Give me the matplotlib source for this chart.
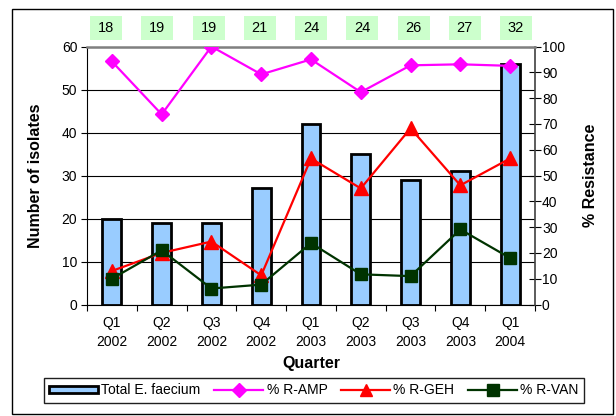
import matplotlib
matplotlib.use("Agg")
import matplotlib.pyplot as plt
from matplotlib.patches import Rectangle, Patch
from matplotlib.lines import Line2D
import numpy as np

plt.rcParams['font.family'] = ['Liberation Sans', 'DejaVu Sans']

quarters = ["Q1\n2002", "Q2\n2002", "Q3\n2002", "Q4\n2002",
            "Q1\n2003", "Q2\n2003", "Q3\n2003", "Q4\n2003", "Q1\n2004"]
total_faecium = [20, 19, 19, 27, 42, 35, 29, 31, 56]
r_amp = [94.2, 73.7, 100.0, 89.2, 95.0, 82.3, 92.7, 93.1, 92.5]
r_geh = [13.0, 20.0, 24.4, 11.3, 56.6, 45.0, 68.3, 46.2, 56.6]
r_van = [10.0, 21.0, 6.2, 7.7, 23.8, 11.7, 11.0, 29.1, 18.0]
box_counts = [18, 19, 19, 21, 24, 24, 26, 27, 32]

W, H = 616, 416
fig = plt.figure(figsize=(W / 100, H / 100), dpi=100)

# plot area in pixel coordinates
left_px, right_px, top_px, bot_px = 87, 535, 46.5, 304.5
ax = fig.add_axes([left_px / W, (H - bot_px) / H,
                   (right_px - left_px) / W, (bot_px - top_px) / H])
ax2 = ax.twinx()
ax.set_zorder(1)
ax2.set_zorder(2)
ax.patch.set_visible(False)
ax2.patch.set_visible(False)

x = np.arange(len(quarters))
ax.bar(x, total_faecium, width=0.38, color='#99CCFF', edgecolor='black',
       linewidth=2.0, zorder=3)

ax.set_xlim(-0.5, len(quarters) - 0.5)
ax.set_ylim(0, 60)
ax.set_yticks(np.arange(0, 61, 10))
ax.grid(axis='y', color='black', linewidth=0.8, zorder=0)
ax.set_axisbelow(True)

# category boundaries as major ticks, labels on minor ticks at centres
ax.set_xticks(np.arange(-0.5, len(quarters), 1.0))
ax.set_xticklabels([])
ax.set_xticks(x, minor=True)
ax.set_xticklabels(quarters, minor=True, fontsize=10, linespacing=1.5)
ax.tick_params(axis='x', which='major', direction='out', length=4, width=0.8)
ax.tick_params(axis='x', which='minor', length=0, pad=8)
ax.tick_params(axis='y', direction='out', length=4, width=0.8, labelsize=10, pad=3)

for side in ('top', 'right'):
    ax.spines[side].set_visible(False)
ax.spines['left'].set_color('black')
ax.spines['bottom'].set_color('black')

ax2.plot(x, r_amp, color='#FF00FF', linewidth=1.6, marker='D',
         markersize=7, markeredgewidth=1, zorder=4)
ax2.plot(x, r_geh, color='#FF0000', linewidth=1.6, marker='^',
         markersize=10, markeredgewidth=1, zorder=5)
ax2.plot(x, r_van, color='#003300', linewidth=1.6, marker='s',
         markersize=9, markeredgewidth=1, zorder=6)
ax2.set_ylim(0, 100)
ax2.set_yticks(np.arange(0, 101, 10))
ax2.tick_params(axis='y', direction='inout', length=8, width=0.8,
                labelsize=10, pad=1)
ax2.spines['top'].set_color('#808080')
ax2.spines['top'].set_linewidth(1.8)
ax2.spines['right'].set_color('#404040')
ax2.spines['right'].set_linewidth(1.2)
ax2.spines['left'].set_visible(False)
ax2.spines['bottom'].set_visible(False)

ax.set_ylabel("Number of isolates", fontsize=11.5, fontweight='bold')
ax.yaxis.set_label_coords(-0.098, 0.5)
ax2.set_ylabel("% Resistance", fontsize=11.5, fontweight='bold')
ax2.yaxis.set_label_coords(1.107, 0.5)
ax.set_xlabel("Quarter", fontsize=11.5, fontweight='bold')
ax.xaxis.set_label_coords(0.5, -0.2)

# count boxes across the top
box_w, box_h = 32, 24
box_cy = 28
box_step = 51.25
box_mid = 311
for i, n in enumerate(box_counts):
    cx = box_mid + (i - 4) * box_step
    fig.patches.append(Rectangle(((cx - box_w / 2) / W, (H - box_cy - box_h / 2) / H),
                                 box_w / W, box_h / H, transform=fig.transFigure,
                                 facecolor='#CCFFCC', edgecolor='none'))
    fig.text(cx / W, (H - box_cy) / H, str(n), ha='center', va='center',
             fontsize=10.5)

# legend
handles = [
    Patch(facecolor='#99CCFF', edgecolor='black', linewidth=2.0),
    Line2D([], [], color='#FF00FF', linewidth=1.6, marker='D', markersize=7),
    Line2D([], [], color='#FF0000', linewidth=1.6, marker='^', markersize=9),
    Line2D([], [], color='#003300', linewidth=1.6, marker='s', markersize=8),
]
labels = ["Total E. faecium", "% R-AMP", "% R-GEH", "% R-VAN"]
leg = fig.legend(handles, labels, loc='center', ncol=4,
                 bbox_to_anchor=(314 / W, (H - 390.5) / H),
                 fontsize=10, frameon=True, fancybox=False, framealpha=1,
                 edgecolor='#202020', handlelength=3.5, handleheight=0.35,
                 handletextpad=0.25, columnspacing=1.0, borderpad=0.4,
                 markerscale=1.0)
leg.get_frame().set_linewidth(1.0)

# outer chart border
fig.patches.append(Rectangle((12 / W, (H - 414) / H), (613 - 12) / W, (414 - 9) / H,
                             transform=fig.transFigure, facecolor='none',
                             edgecolor='black', linewidth=1.0))

fig.savefig("out.png", dpi=100)
